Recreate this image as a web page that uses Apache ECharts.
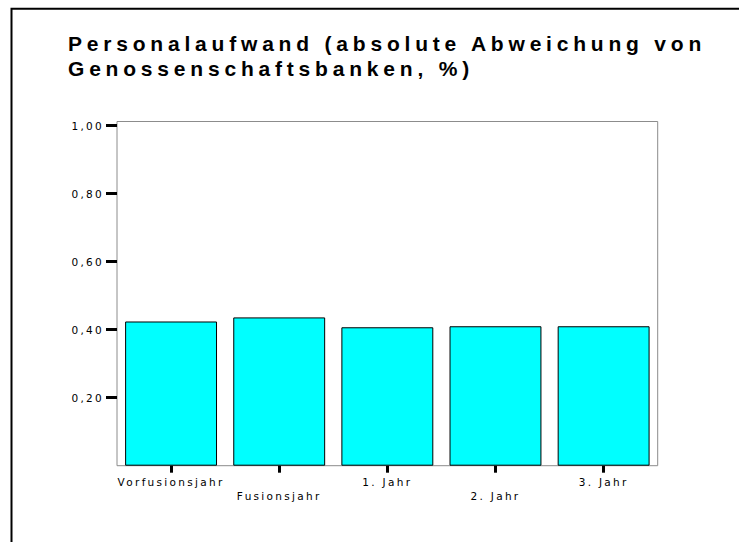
<!DOCTYPE html>
<html>
<head>
<meta charset="utf-8">
<script src="https://cdn.jsdelivr.net/npm/echarts@6/dist/echarts.min.js"></script>
<style>
  html, body { margin: 0; padding: 0; background: #fff; }
  #chart { width: 739px; height: 542px; }
  #chart svg text { letter-spacing: 2.3px; }
  #chart svg text[style*="bold"] { letter-spacing: 4.8px; }
</style>
</head>
<body>
<div id="chart"></div>
<script>
const titleText = 'Personalaufwand (absolute Abweichung von\nGenossenschaftsbanken, %)';
const categories = ['Vorfusionsjahr', 'Fusionsjahr', '1. Jahr', '2. Jahr', '3. Jahr'];
const values = [0.424, 0.436, 0.407, 0.410, 0.410];
const yTicks = [0.2, 0.4, 0.6, 0.8, 1.0];

const FONT = 'DejaVu Sans, Liberation Sans, sans-serif';
const TITLE_FONT = 'Liberation Sans, Arial, sans-serif';

const chart = echarts.init(document.getElementById('chart'), null, { renderer: 'svg' });
chart.setOption({
  animation: false,
  backgroundColor: '#fff',
  title: {
    text: titleText,
    left: 68,
    top: 31,
    padding: 0,
    textStyle: {
      fontFamily: TITLE_FONT,
      fontWeight: 'bold',
      fontSize: 21,
      lineHeight: 25,
      color: '#000'
    }
  },
  graphic: [{
    type: 'rect',
    shape: { x: 11.5, y: 8.7, width: 900, height: 700 },
    style: { fill: 'none', stroke: '#000', lineWidth: 2 },
    silent: true
  }],
  grid: {
    left: 117, top: 121.5, right: 81.3, bottom: 76.3,
    show: true, borderColor: '#8c8c8c', borderWidth: 1, backgroundColor: 'transparent'
  },
  xAxis: {
    type: 'category',
    data: categories,
    axisLine: { show: false },
    axisTick: { show: true, alignWithLabel: true, length: 7, lineStyle: { color: '#000', width: 3 } },
    axisLabel: {
      interval: 0,
      margin: 9,
      lineHeight: 14.5,
      fontFamily: FONT,
      fontSize: 10.5,
      color: '#000',
      formatter: (v, i) => (i % 2 === 1 ? '\n' + v : v)
    },
    splitLine: { show: false }
  },
  yAxis: {
    type: 'value',
    min: 0,
    max: 1.012,
    interval: 0.2,
    axisLine: { show: false },
    splitLine: { show: false },
    axisTick: { show: true, length: 11, customValues: yTicks, lineStyle: { color: '#000', width: 3 } },
    axisLabel: {
      margin: 13,
      customValues: yTicks,
      fontFamily: FONT,
      fontSize: 10.5,
      color: '#000',
      formatter: v => v.toFixed(2).replace('.', ',')
    }
  },
  series: [{
    type: 'bar',
    data: values,
    barWidth: '85%',
    itemStyle: { color: '#00FFFF', borderColor: '#000', borderWidth: 1 }
  }]
});
</script>
</body>
</html>
